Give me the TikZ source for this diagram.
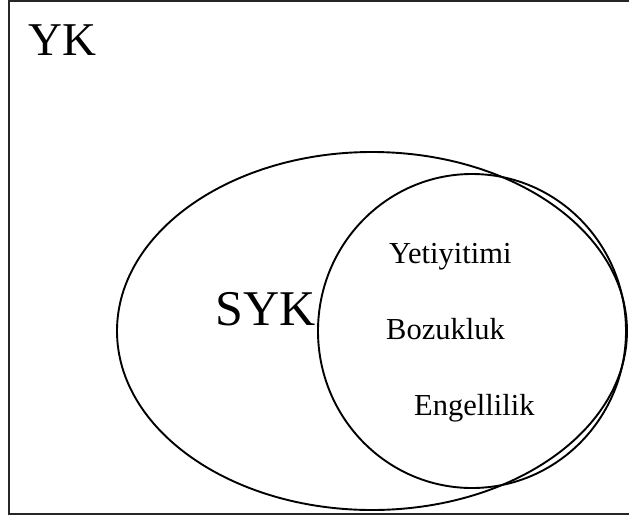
\documentclass[tikz,border=0pt]{standalone}
\usepackage{fontspec}
\setmainfont{Liberation Serif}
\begin{document}
\begin{tikzpicture}[x=1pt,y=-1pt,
  setline/.style={line width=1.9pt},
  frame/.style={draw=black!85,line width=1.4pt},
  biglabel/.style={anchor=base west,inner sep=0pt,font=\fontsize{47}{50}\selectfont},
  syklabel/.style={anchor=base west,inner sep=0pt,font=\fontsize{50}{54}\selectfont},
  itemlabel/.style={anchor=base west,inner sep=0pt,font=\fontsize{30.5}{33}\selectfont}]
  \clip (0,0) rectangle (629,520);
  \fill[white] (0,0) rectangle (629,520);
  % universe frame
  \draw[frame] (9,1) rectangle (660,514);
  % sets
  \draw[setline] (372,331) ellipse [x radius=255, y radius=179];
  \draw[setline] (472,331) ellipse [x radius=154, y radius=157];
  % labels
  \node[biglabel] (yk) at (28,55) {YK};
  \node[syklabel] (syk) at (215,325) {SYK};
  \node[itemlabel] (yet) at (389,263) {Yetiyitimi};
  \node[itemlabel] (boz) at (386,339) {Bozukluk};
  \node[itemlabel] (eng) at (414,415) {Engellilik};
\end{tikzpicture}
\end{document}
